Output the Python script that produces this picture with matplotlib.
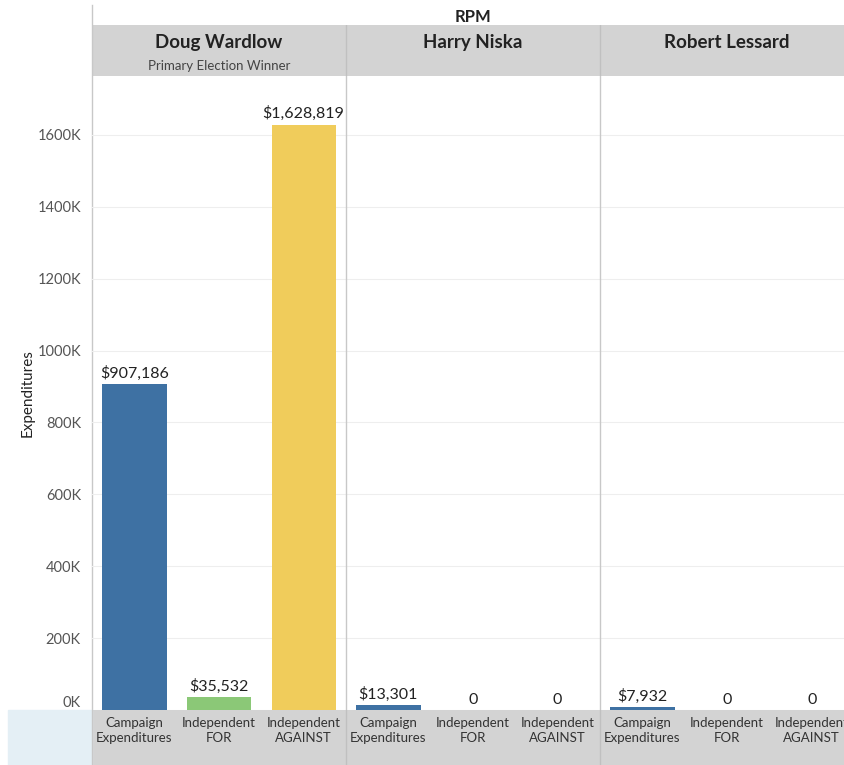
import numpy as np
import matplotlib.pyplot as plt
from matplotlib.patches import Rectangle
from matplotlib.lines import Line2D

plt.rcParams['font.family'] = ['Lato', 'DejaVu Sans']

candidates = ['Doug Wardlow', 'Harry Niska', 'Robert Lessard']
subtitles = ['Primary Election Winner', '', '']
categories = ['Campaign\nExpenditures', 'Independent\nFOR', 'Independent\nAGAINST']
values = [
    [907186, 35532, 1628819],
    [13301, 0, 0],
    [7932, 0, 0],
]
colors = ['#3e71a3', '#8bc877', '#f0cc5b']
yticks = [0, 200000, 400000, 600000, 800000, 1000000, 1200000, 1400000, 1600000]

W, H = 845, 765
fig = plt.figure(figsize=(W / 100, H / 100), dpi=100)


def fx(px):
    return px / W


def fy(py):
    return 1 - py / H


left, right = 92, 845
top, zero = 76, 710
xmax = -0.5 + (right - left) / 84.67

# header band
hx = fig.add_axes([fx(left), fy(top), fx(right - left), 51 / H])
hx.set_facecolor('#d3d3d3')
hx.set_xlim(-0.5, xmax)
hx.set_ylim(0, 1)
hx.set_xticks([])
hx.set_yticks([])
for s in hx.spines.values():
    s.set_visible(False)
for i, cand in enumerate(candidates):
    cx = i * 3 + 1
    hx.text(cx, 0.66, cand, ha='center', va='center', fontsize=13.5,
            fontweight='bold', color='#222222')
    if subtitles[i]:
        hx.text(cx, 0.2, subtitles[i], ha='center', va='center', fontsize=9.5,
                color='#444444')
for k in range(1, len(candidates)):
    hx.axvline(k * 3 - 0.5, color='#c0c0c0', linewidth=1)
fig.text(fx(473), fy(17), 'RPM', ha='center', va='center', fontsize=12,
         fontweight='bold', color='#222222')

# category label band
bx = fig.add_axes([fx(left), 0, fx(right - left), (H - zero) / H])
bx.set_facecolor('#d3d3d3')
bx.set_xlim(-0.5, xmax)
bx.set_ylim(0, 1)
bx.set_xticks([])
bx.set_yticks([])
for s in bx.spines.values():
    s.set_visible(False)
for i in range(len(candidates)):
    for j, cat in enumerate(categories):
        bx.text(i * 3 + j, 0.63, cat, ha='center', va='center', fontsize=9.5,
                color='#333333', linespacing=1.3)
for k in range(1, len(candidates)):
    bx.axvline(k * 3 - 0.5, color='#c0c0c0', linewidth=1)

fig.patches.append(Rectangle((fx(8), 0), fx(left - 8), (H - zero) / H,
                             transform=fig.transFigure, color='#e4eff5', zorder=0))

# main plot
ax = fig.add_axes([fx(left), fy(zero), fx(right - left), (zero - top) / H])
ax.set_zorder(5)
ax.patch.set_alpha(0)
for i, cand in enumerate(candidates):
    for j, cat in enumerate(categories):
        x = i * 3 + j
        v = values[i][j]
        ax.bar(x, v, width=0.76, color=colors[j], zorder=3)
        lab = '0' if v == 0 else '${:,}'.format(v)
        ax.text(x, v + 9000, lab, ha='center', va='bottom', fontsize=11.5,
                color='#222222', zorder=4)
ax.set_xlim(-0.5, xmax)
ax.set_ylim(0, 1764000)
ax.set_yticks(yticks)
ax.set_yticklabels(['{}K'.format(t // 1000) for t in yticks], fontsize=10.5, color='#555555')
ax.get_yticklabels()[0].set_verticalalignment('bottom')
ax.set_xticks([])
ax.tick_params(axis='y', length=0, pad=8)
ax.grid(axis='y', color='#eeeeee', linewidth=0.8, zorder=0)
for s in ax.spines.values():
    s.set_visible(False)
for k in range(1, len(candidates)):
    ax.axvline(k * 3 - 0.5, color='#c8c8c8', linewidth=1, zorder=2)
ax.set_ylabel('Expenditures', fontsize=11, color='#222222', labelpad=2)

fig.lines.append(Line2D([fx(left), fx(left)], [fy(5), 0], transform=fig.transFigure,
                        color='#c8c8c8', linewidth=1))

fig.savefig('out.png', dpi=100)
